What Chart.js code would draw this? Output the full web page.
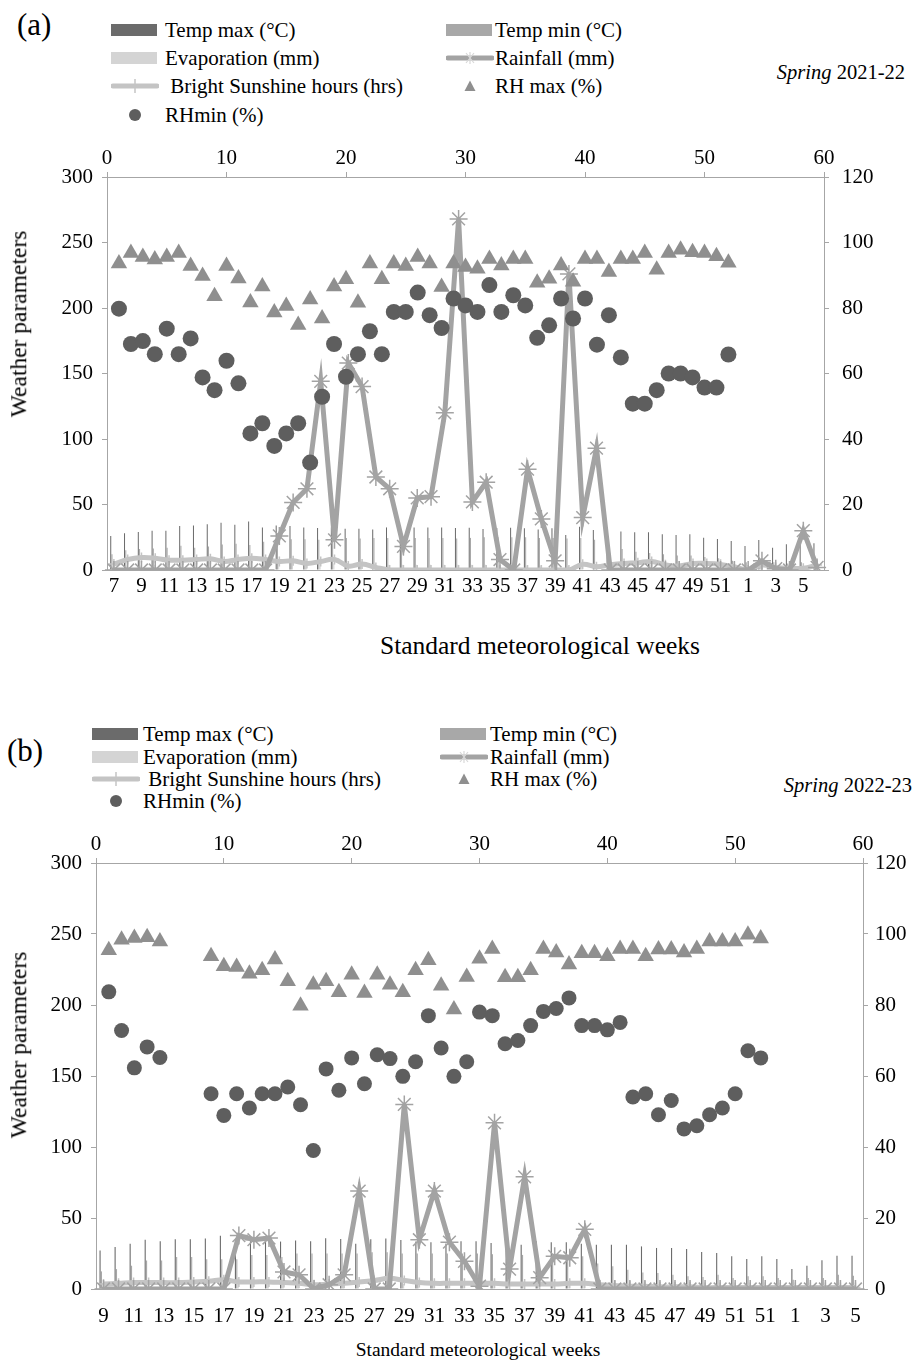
<!DOCTYPE html>
<html>
<head>
<meta charset="utf-8">
<script src="https://cdn.jsdelivr.net/npm/chart.js@4.4.1/dist/chart.umd.min.js"></script>
<style>
  body { margin:0; background:#fff; width:912px; height:1363px; position:relative; overflow:hidden;
         font-family:"Liberation Serif", "Times New Roman", serif; color:#000; }
  canvas { position:absolute; left:0; }
  .t { position:absolute; white-space:pre; line-height:1; transform:translateY(-50%); }
  .ic { position:absolute; transform:translateY(-50%); }
  .yt { position:absolute; white-space:nowrap; line-height:1; transform:translate(-50%,-50%) rotate(-90deg); }
  .xt { position:absolute; white-space:nowrap; line-height:1; transform:translate(-50%,-50%); }
</style>
</head>
<body>
<script>
// ---- panel (a), Spring 2021-22 ----
const weeksA = [7,8,9,10,11,12,13,14,15,16,17,18,19,20,21,22,23,24,25,26,27,28,29,30,31,32,33,34,35,36,37,38,39,40,41,42,43,44,45,46,47,48,49,50,51,52,1,2,3,4,5,6];
const tmaxA = [26,28,29,30,30,33.5,34,35,36,34.5,37,32.5,34,33.5,32.5,32,32.5,31.5,31.5,31,32.5,32,32.5,32.5,32.5,32,32.3,31.3,32,32.3,31.8,31,31.8,26.7,33,30.5,29.8,29.3,28.8,28.8,27.2,26.7,27.2,24.7,23.7,22.1,18.3,22.9,17,19.6,20,20.4];
const tminA = [12,15,16,16.5,17,18.5,17,18,19.5,20,19,21.5,23,23.5,23.5,23,24,24.5,24,24.5,24.5,24.5,24.5,24.5,24.5,24,24.5,25,25,25,25,24.5,24.5,24,24.5,23,17,16,14,13,12,11,11,10,9,7,6,8,6,5,6,5];
const evapA = [3,3.5,3.5,4,4.5,5,5.5,6,6.5,7,8,7.5,7,6.5,6,5.5,5,5,4.5,4.5,4,4,4,4,4,4,4,4,3.5,3.5,3.5,3.5,3.5,3,3,3,3,2.5,2.5,2.5,2,2,2,2,2,2,2,2,2,2,2,2.5];
const rainA = [0,0,0,0,0,0,0,0,0,0,0,0,26,51.6,62,144,23,158,140,71,62,18,55,56,120,268,52,67,8,0,77,39,7,226,40,93,0,0,0,0,0,0,0,0,0,0,0,7,1,0,30,2];
const sunA = [4.5,8,9.5,9,7.5,7.5,8,8.5,6.5,8,9,8,6.5,7,5,6.5,8,3,4.5,2,0,0,0,0,0,0,0,0,0,0,0,0,0,0,4.3,2.5,4,5,5.5,6.5,4,3,5,5,4.3,2.5,0,3.8,2,1.3,1.3,3.8];
const rhXA = [1,2,3,4,5,6,7,8,9,10,11,12,13,14,15,16,17,18,19,20,21,22,23,24,25,26,27,28,29,30,31,32,33,34,35,36,37,38,39,40,41,42,43,44,45,46,47,48,49,50,51,52];
const rhMaxA = [93.6,96.8,95.6,94.8,95.6,96.8,92.8,89.8,83.6,92.8,89,81.7,86.6,78.6,80.6,74.8,82.6,76.8,86.6,88.8,81.6,93.6,88.8,93.6,92.8,95.6,93.6,86.4,93.6,92.5,92,95,93,95,95,87.7,88.9,93,88,95,95,91,95,95,96.8,91.7,96.8,97.8,97,96.8,95.8,93.8];
const rhMinA = [79.8,69,69.9,65.9,73.7,65.9,70.7,58.8,54.9,63.9,57,41.7,44.8,37.9,41.7,44.8,32.8,52.9,69,59,65.9,72.9,65.9,78.8,78.8,84.7,77.8,73.9,82.9,80.8,78.8,87,78.8,83.9,80.8,70.9,74.7,82.9,76.8,82.9,68.8,77.8,64.9,50.8,50.8,54.9,60,60,58.8,55.7,55.7,65.8];

// ---- panel (b), Spring 2022-23 ----
const weeksB = [9,10,11,12,13,14,15,16,17,18,19,20,21,22,23,24,25,26,27,28,29,30,31,32,33,34,35,36,37,38,39,40,41,42,43,44,45,46,47,48,49,50,51,52,51,52,1,2,3,4,5];
const tmaxB = [27.2,29.5,31.9,34.7,33.6,35,35,35.5,37.5,34,33.6,33.6,33.4,34.2,33.6,35.8,35.2,31.8,35,35.5,34.5,33.4,32.9,32,33.6,33.6,32.4,31.9,31.2,33.6,32.9,32.9,31.9,31.2,31.2,31.2,30,28.9,28.9,28.2,26,25.4,23,21.1,23,21.1,14.1,16.4,20.2,23.5,23.5];
const tminB = [12.4,14,16.4,20,20,22.5,22.5,21,21,21,24,24,22.5,25,25,25,25,25,25.8,25.8,25,25,25,25,25,25,24.5,24,24,23.5,23.5,23.5,23,18,16,13.6,11.7,11.3,10,9,8.5,10,7.7,9,9,7.7,6.6,7.7,7.7,10,9.4];
const evapB = [3,3,3.5,4,4,4.5,5,5.5,6,8,7,6.5,5,5,4.5,4.5,4.5,4,4,4,3.5,3.5,3.5,3.5,3.5,3.5,3,3,3,3,3,3,3,2.5,2.5,2.5,2,2,2,2,2,2,1.5,1.5,1.5,1.5,1.5,1.5,2,2,2];
const rainB = [0,0,0,0,0,0,0,0,0,37.6,34.7,35.9,12,10,0,3,10,69,0,0,130,34.7,69,33,19.5,2,117,14,79,8,23,22,42,0,0,0,0,0,0,0,0,0,0,0,0,0,0,0,0,0,0];
const sunB = [3.5,4,4.5,4.5,4.5,4.5,5,5.5,6.5,5,5,5,4.5,4,3,3.5,4,5,6,7.5,6,4.5,4,4,4,4,4,3.5,3.5,3.5,3.5,4,4,3,2.5,2,2,1.5,1.5,1.5,1,1,1,1,1,1,1,1,1,1,1];
const rhXB = [1,2,3,4,5,9,10,11,12,13,14,15,16,17,18,19,20,21,22,23,24,25,26,27,28,29,30,31,32,33,34,35,36,37,38,39,40,41,42,43,44,45,46,47,48,49,50,51,52];
const rhMaxB = [95.4,98.4,98.9,99.1,97.9,93.7,90.9,90.7,88.8,89.8,92.8,86.7,79.8,85.7,86.7,83.6,88.5,83.4,88.5,85.7,83.6,89.8,92.6,85.4,78.7,87.9,93,95.8,87.8,87.8,89.8,95.8,94.8,91.4,94.6,94.6,93.7,95.8,95.8,93.7,95.6,95.6,94.8,95.8,97.9,97.9,97.9,99.8,98.7];
const rhMinB = [83.7,72.8,62.3,68.2,65.2,55,48.9,55,51,55,55,56.9,51.9,39,62,56,65.1,57.8,66,64.9,59.9,64,77,67.9,59.9,64,78,77,69.1,70,74.2,78.2,79,82,74.2,74.2,73,75.1,54.1,55,49.1,53.1,45.1,46,49.1,51,55,67.1,65.1];

const legendLabels = ['Temp max (°C)', 'Temp min (°C)', 'Evaporation (mm)', 'Rainfall (mm)', ' Bright Sunshine hours (hrs)', 'RH max (%)', 'RHmin (%)'];

const COL = {
  tmax: '#6b6b6b', tmin: '#a8a8a8', evap: '#d4d4d4', rain: '#a3a3a3',
  sun: '#c4c4c4', rhmax: '#8f8f8f', rhmin: '#5e5e5e', axis: '#a6a6a6'
};
const FONT = '"Liberation Serif", "Times New Roman", serif';

Chart.defaults.font.family = FONT;
Chart.defaults.font.size = 21;
Chart.defaults.color = '#000';

function addText(txt, x, y, size, cls, extra) {
  const d = document.createElement('div');
  d.className = cls || 't';
  d.style.left = x + 'px';
  d.style.top = y + 'px';
  d.style.fontSize = size + 'px';
  if (extra) Object.assign(d.style, extra);
  d.innerHTML = txt;
  document.body.appendChild(d);
}

function icon(kind) {
  let s = '';
  if (kind === 'tmax' || kind === 'tmin' || kind === 'evap') {
    s = `<rect x="0" y="2" width="46" height="12" fill="${COL[kind]}"/>`;
  } else if (kind === 'rain') {
    s = `<line x1="2" y1="8" x2="46" y2="8" stroke="${COL.rain}" stroke-width="5" stroke-linecap="round"/>` +
        `<path d="M20 3 L28 13 M28 3 L20 13 M24 2 L24 14" stroke="#d8d8d8" stroke-width="1.2"/>`;
  } else if (kind === 'sun') {
    s = `<line x1="2" y1="8" x2="46" y2="8" stroke="${COL.sun}" stroke-width="5" stroke-linecap="round"/>` +
        `<line x1="24" y1="1" x2="24" y2="15" stroke="${COL.sun}" stroke-width="1.5"/>`;
  } else if (kind === 'rhmax') {
    s = `<polygon points="24,2.5 29.5,13 18.5,13" fill="${COL.rhmax}"/>`;
  } else if (kind === 'rhmin') {
    s = `<circle cx="24" cy="8" r="6" fill="${COL.rhmin}"/>`;
  }
  return `<svg width="48" height="16" viewBox="0 0 48 16">${s}</svg>`;
}

function addLegend(L) {
  const kinds = ['tmax', 'tmin', 'evap', 'rain', 'sun', 'rhmax', 'rhmin'];
  kinds.forEach((k, i) => {
    const col = i % 2, row = Math.floor(i / 2);
    const y = L.rows[row];
    const d = document.createElement('div');
    d.className = 'ic';
    d.style.left = L.icon[col] + 'px';
    d.style.top = y + 'px';
    d.style.height = '16px';
    d.innerHTML = icon(k);
    document.body.appendChild(d);
    addText(legendLabels[i], L.text[col], y, L.size);
  });
}

function buildPanel(p) {
  const cv = document.createElement('canvas');
  cv.width = 912;
  cv.height = p.height;
  cv.style.top = p.top + 'px';
  document.body.appendChild(cv);

  const maxPts = p.rhX.map((x, i) => ({ x: x, y: p.rhMax[i] }));
  const minPts = p.rhX.map((x, i) => ({ x: x, y: p.rhMin[i] }));
  const grid = { drawOnChartArea: false, color: COL.axis, tickLength: 5 };
  const border = { color: COL.axis, width: 1 };
  const bar = { type: 'bar', categoryPercentage: 0.55, barPercentage: 0.8, xAxisID: 'x', yAxisID: 'y', order: 5 };

  new Chart(cv, {
    type: 'bar',
    data: {
      labels: p.weeks,
      datasets: [
        Object.assign({ label: legendLabels[0], data: p.tmax, backgroundColor: COL.tmax }, bar),
        Object.assign({ label: legendLabels[1], data: p.tmin, backgroundColor: COL.tmin }, bar),
        Object.assign({ label: legendLabels[2], data: p.evap, backgroundColor: COL.evap }, bar),
        {
          type: 'line', label: legendLabels[4], data: p.sun, xAxisID: 'x', yAxisID: 'y', order: 3,
          borderColor: COL.sun, borderWidth: 5, tension: 0.4,
          pointStyle: 'cross', pointRadius: 5, pointBorderColor: COL.sun, pointBorderWidth: 1.5
        },
        {
          type: 'line', label: legendLabels[3], data: p.rain, xAxisID: 'x', yAxisID: 'y', order: 2,
          borderColor: COL.rain, borderWidth: 5, tension: 0,
          pointStyle: 'star', pointRadius: 9, pointBorderColor: COL.rain, pointBorderWidth: 1.5,
          pointBackgroundColor: 'rgba(0,0,0,0)'
        },
        {
          type: 'line', label: legendLabels[5], data: maxPts, xAxisID: 'x2', yAxisID: 'y2', order: 1,
          showLine: false, pointStyle: 'triangle', pointRadius: p.triR,
          pointBackgroundColor: COL.rhmax, pointBorderWidth: 0
        },
        {
          type: 'line', label: legendLabels[6], data: minPts, xAxisID: 'x2', yAxisID: 'y2', order: 0,
          showLine: false, pointStyle: 'circle', pointRadius: p.dotR,
          pointBackgroundColor: COL.rhmin, pointBorderWidth: 0
        }
      ]
    },
    options: {
      responsive: false,
      animation: false,
      devicePixelRatio: 1,
      layout: { padding: 0 },
      plugins: { legend: { display: false }, tooltip: { enabled: false } },
      scales: {
        x: {
          type: 'category', position: 'bottom', offset: true,
          grid: { drawOnChartArea: false, drawTicks: false, color: COL.axis },
          border: border,
          ticks: {
            autoSkip: false, maxRotation: 0, minRotation: 0, padding: p.xPad,
            callback: function (v, i) { return i % 2 === 0 ? String(this.getLabelForValue(v)) : ''; }
          },
          afterFit: s => { s.height = p.bottomH; }
        },
        x2: {
          type: 'linear', position: 'top', min: 0, max: 60, offset: false,
          grid: Object.assign({ offset: false }, grid), border: border,
          ticks: { stepSize: 10, padding: 1 },
          afterFit: s => { s.height = p.topH; }
        },
        y: {
          type: 'linear', position: 'left', min: 0, max: 300,
          grid: grid, border: border,
          ticks: { stepSize: 50, padding: 9 },
          afterFit: s => { s.width = p.leftW; }
        },
        y2: {
          type: 'linear', position: 'right', min: 0, max: 120,
          grid: grid, border: border,
          ticks: { stepSize: 20, padding: p.rPad },
          afterFit: s => { s.width = p.rightW; }
        }
      }
    }
  });
}

// panel (a)
addText('(a)', 17, 24, 31);
addText('<i>Spring</i> 2021-22', 905, 72, 20.5, 't', { transform: 'translate(-100%,-50%)' });
addLegend({ rows: [30, 57.5, 86, 115], icon: [111, 446], text: [165, 495], size: 21 });
buildPanel({
  top: 140, height: 470, leftW: 107, rightW: 88, topH: 37, bottomH: 40, xPad: 4, rPad: 13,
  weeks: weeksA, tmax: tmaxA, tmin: tminA, evap: evapA, rain: rainA, sun: sunA,
  rhX: rhXA, rhMax: rhMaxA, rhMin: rhMinA, triR: 9.5, dotR: 8
});
addText('Weather parameters', 19, 324, 23.5, 'yt');
addText('Standard meteorological weeks', 540, 646, 25.5, 'xt');

// panel (b)
addText('(b)', 7, 750, 31);
addText('<i>Spring</i> 2022-23', 912, 785, 20.5, 't', { transform: 'translate(-100%,-50%)' });
addLegend({ rows: [734, 757, 779, 801], icon: [92, 440], text: [143, 490], size: 21 });
buildPanel({
  top: 823, height: 507, leftW: 96, rightW: 49, topH: 40, bottomH: 41, xPad: 15, rPad: 7,
  weeks: weeksB, tmax: tmaxB, tmin: tminB, evap: evapB, rain: rainB, sun: sunB,
  rhX: rhXB, rhMax: rhMaxB, rhMin: rhMinB, triR: 9.5, dotR: 7.5
});
addText('Weather parameters', 19, 1045, 23.5, 'yt');
addText('Standard meteorological weeks', 478, 1350, 19.5, 'xt');
</script>
</body>
</html>
